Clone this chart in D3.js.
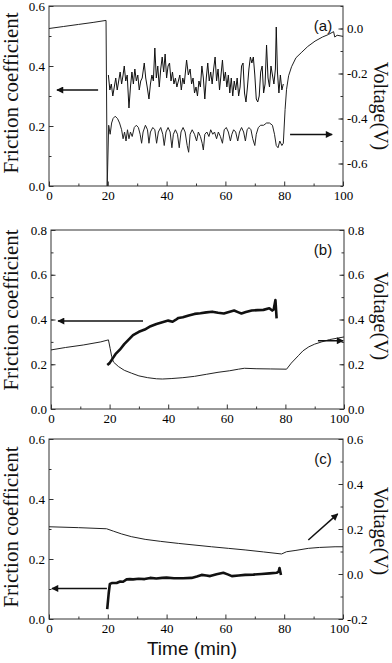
<!DOCTYPE html>
<html>
<head>
<meta charset="utf-8">
<script src="https://cdn.jsdelivr.net/npm/d3@7/dist/d3.min.js"></script>
<style>
  body { margin: 0; background: #fff; }
</style>
</head>
<body>
<div id="chart"></div>
<script>
// ---- data (time in min, friction coefficient, voltage in V) ----
var timeTicks = [0, 20, 40, 60, 80, 100];

// panel (a)
var muA = [[20.2,0.37],[20.7,0.32],[21.2,0.34],[21.7,0.30],[22.2,0.33],[22.7,0.36],[23.2,0.32],[23.7,0.35],[24.2,0.38],[24.7,0.34],
  [25.2,0.37],[25.6,0.40],[26.1,0.35],[26.6,0.37],[27.2,0.26],[27.7,0.33],[28.2,0.38],[28.7,0.34],[29.2,0.39],[29.7,0.35],
  [30.2,0.37],[30.7,0.32],[31.2,0.35],[31.7,0.36],[32.4,0.41],[32.9,0.36],[33.4,0.33],[34.0,0.29],[34.5,0.34],[35.0,0.37],
  [35.5,0.35],[36.0,0.46],[36.5,0.36],[37.0,0.40],[37.5,0.33],[38.0,0.39],[38.5,0.43],[39.0,0.38],[39.5,0.44],[40.0,0.36],
  [40.5,0.40],[41.0,0.41],[41.5,0.35],[42.0,0.38],[42.5,0.34],[43.0,0.36],[43.5,0.33],[44.0,0.35],[44.5,0.37],[45.0,0.32],
  [45.5,0.36],[46.0,0.34],[46.8,0.42],[47.4,0.37],[48.0,0.39],[48.5,0.34],[49.0,0.36],[49.5,0.31],[50.0,0.33],[50.5,0.30],
  [51.0,0.35],[51.5,0.33],[52.0,0.40],[52.5,0.36],[53.0,0.29],[53.5,0.36],[54.0,0.41],[54.5,0.35],[55.0,0.38],[55.5,0.34],
  [56.0,0.39],[56.5,0.43],[57.0,0.35],[57.5,0.39],[58.0,0.32],[58.5,0.37],[59.0,0.42],[59.5,0.35],[60.0,0.38],[60.5,0.33],
  [61.0,0.37],[61.5,0.31],[62.0,0.36],[62.5,0.30],[63.0,0.35],[63.5,0.32],[64.0,0.36],[64.5,0.30],[65.0,0.33],[65.5,0.40],
  [66.0,0.41],[66.5,0.31],[67.0,0.28],[67.5,0.33],[68.0,0.39],[68.5,0.43],[69.0,0.41],[69.5,0.43],[70.0,0.37],[70.5,0.29],
  [71.0,0.28],[71.5,0.30],[72.0,0.38],[72.5,0.40],[73.0,0.31],[73.5,0.34],[74.0,0.47],[74.5,0.36],[75.0,0.33],[75.5,0.40],
  [76.0,0.37],[76.5,0.34],[77.0,0.39],[77.3,0.53],[77.7,0.38],[78.2,0.31],[78.7,0.37],[79.2,0.32],[79.7,0.34]];
var voltA = [[0,0.0],[5,0.009],[10,0.018],[15,0.027],[19.4,0.036],[19.8,-0.70],[20.3,-0.43],[20.8,-0.47],[21.3,-0.42],[21.8,-0.40],
  [22.5,-0.39],[23.3,-0.40],[24.0,-0.42],[24.7,-0.45],[25.2,-0.49],[25.7,-0.46],[26.2,-0.50],[26.7,-0.45],[27.2,-0.49],[27.7,-0.46],
  [28.3,-0.48],[29.0,-0.44],[29.7,-0.43],[30.4,-0.44],[31.0,-0.47],[31.5,-0.51],[32.0,-0.46],[32.8,-0.43],[33.5,-0.45],[34.0,-0.51],
  [34.5,-0.46],[35.3,-0.44],[36.0,-0.45],[36.6,-0.51],[37.2,-0.46],[38.0,-0.44],[38.7,-0.47],[39.2,-0.52],[39.8,-0.46],[40.5,-0.44],
  [41.2,-0.46],[41.8,-0.53],[42.3,-0.47],[43.0,-0.45],[43.7,-0.47],[44.3,-0.53],[44.9,-0.46],[45.6,-0.44],[46.3,-0.46],[47.0,-0.52],
  [47.5,-0.55],[48.0,-0.47],[48.7,-0.45],[49.5,-0.47],[50.2,-0.50],[50.8,-0.46],[51.5,-0.48],[52.1,-0.51],[52.5,-0.54],[53.0,-0.47],
  [53.7,-0.46],[54.4,-0.48],[55.0,-0.45],[55.7,-0.47],[56.3,-0.46],[57.0,-0.49],[57.6,-0.46],[58.3,-0.48],[59.0,-0.51],[59.6,-0.45],
  [60.3,-0.44],[61.0,-0.46],[61.7,-0.50],[62.2,-0.47],[62.8,-0.45],[63.5,-0.46],[64.2,-0.50],[64.8,-0.46],[65.5,-0.44],[66.2,-0.46],
  [66.8,-0.50],[67.4,-0.45],[68.0,-0.44],[68.7,-0.45],[69.3,-0.49],[70.0,-0.52],[70.5,-0.47],[71.2,-0.44],[72.0,-0.43],[73.0,-0.43],
  [74.0,-0.42],[75.0,-0.42],[76.0,-0.43],[76.7,-0.47],[77.3,-0.52],[77.9,-0.53],[78.5,-0.50],[79.2,-0.52],[79.7,-0.51],[80.3,-0.36],
  [80.8,-0.27],[81.5,-0.21],[82.5,-0.17],[84.0,-0.13],[86.0,-0.105],[88.0,-0.08],[90.5,-0.056],[93.0,-0.038],[95.0,-0.027],
  [96.8,-0.014],[97.2,-0.038],[98.0,-0.03],[100,-0.035]];

// panel (b)
var muB = [[19.2,0.197],[20.0,0.205],[21.0,0.225],[22.0,0.245],[23.5,0.265],[25.0,0.29],[26.5,0.31],[28.0,0.33],[30.0,0.345],
  [32.0,0.355],[34.0,0.37],[36.0,0.38],[38.0,0.388],[40.0,0.395],[41.5,0.39],[42.5,0.398],[43.5,0.407],[45.0,0.41],[47.0,0.418],
  [49.0,0.425],[51.0,0.428],[53.0,0.432],[55.0,0.435],[57.0,0.43],[59.0,0.427],[61.0,0.435],[62.5,0.44],[64.0,0.432],[65.0,0.427],
  [66.5,0.433],[68.5,0.44],[70.5,0.442],[72.5,0.443],[74.5,0.45],[75.5,0.44],[76.0,0.445],[76.6,0.487],[77.0,0.405]];
var voltB = [[0,0.264],[5,0.275],[11,0.286],[17,0.30],[19.6,0.309],[20.2,0.27],[20.7,0.235],[21.3,0.21],[23,0.19],[25,0.173],
  [27.5,0.16],[30,0.148],[33,0.14],[36,0.135],[38,0.134],[41,0.136],[45,0.14],[49,0.146],[53,0.155],[57,0.164],[61,0.171],
  [64,0.178],[66,0.182],[70,0.18],[75,0.179],[80.4,0.178],[82,0.205],[84.4,0.238],[86,0.26],[88,0.278],[90,0.29],[92.4,0.30],
  [95,0.31],[97.5,0.316],[100,0.322]];

// panel (c)
var muC = [[19.8,0.033],[20.3,0.085],[20.7,0.117],[21.5,0.12],[23,0.12],[24.2,0.125],[25.2,0.124],[26.4,0.132],[27.5,0.133],
  [28.6,0.132],[30.5,0.134],[32.5,0.133],[34.4,0.137],[36.5,0.135],[38.5,0.137],[40,0.138],[42.5,0.136],[45.6,0.136],[48.5,0.137],
  [50.3,0.142],[51.9,0.147],[53.5,0.145],[54.8,0.143],[57,0.149],[59.3,0.154],[61,0.148],[62.2,0.143],[64.5,0.145],[66.7,0.147],
  [69.5,0.148],[72.3,0.15],[75,0.152],[77.4,0.154],[78.1,0.158],[78.4,0.17],[78.9,0.147]];
var voltC = [[0,0.210],[10,0.206],[19.6,0.201],[22,0.19],[24.7,0.178],[28,0.166],[32.7,0.154],[38,0.145],[44,0.136],[50,0.128],
  [55.3,0.121],[61,0.114],[66.7,0.107],[73,0.098],[79.1,0.089],[80.8,0.099],[84,0.105],[88.2,0.114],[92,0.118],[97.3,0.121],[100,0.121]];

// arrows in data units: [t0, v0, t1, v1, axis] (head at t1,v1)
var arrowsA = [[16.7, 0.32, 2.7, 0.32, "L"], [82, -0.471, 96.3, -0.471, "R"]];
var arrowsB = [[31.4, 0.393, 2.4, 0.393, "L"], [91.1, 0.305, 99.7, 0.305, "R"]];
var arrowsC = [[19.7, 0.102, 1.0, 0.102, "L"], [88.2, 0.151, 98.2, 0.267, "R"]];

// ---- layout ----
var width = 392, height = 663;
var serif = "'Liberation Serif', 'Times New Roman', serif";
var sans = "'Liberation Sans', Arial, sans-serif";

var panels = [
  {tag: "(a)", left: 49, right: 343, top: 6, bottom: 186, muDom: [0, 0.6], vDom: [-0.7, 0.1],
   muTicks: [0, 0.2, 0.4, 0.6], vTicks: [-0.6, -0.4, -0.2, 0.0],
   mu: muA, volt: voltA, muWidth: 1, arrows: arrowsA, fcY: 93, vY: 106, lastShift: 0},
  {tag: "(b)", left: 51, right: 344, top: 230, bottom: 409, muDom: [0, 0.8], vDom: [0, 0.8],
   muTicks: [0, 0.2, 0.4, 0.6, 0.8], vTicks: [0, 0.2, 0.4, 0.6, 0.8],
   mu: muB, volt: voltB, muWidth: 2.6, arrows: arrowsB, fcY: 310, vY: 316, lastShift: -5},
  {tag: "(c)", left: 49, right: 343, top: 439, bottom: 619, muDom: [0, 0.6], vDom: [-0.2, 0.6],
   muTicks: [0, 0.2, 0.4, 0.6], vTicks: [-0.2, 0, 0.2, 0.4, 0.6],
   mu: muC, volt: voltC, muWidth: 2.6, arrows: arrowsC, fcY: 527, vY: 531, lastShift: -4}
];

var svg = d3.select("#chart").append("svg")
  .attr("width", width)
  .attr("height", height);

var defs = svg.append("defs");
defs.append("marker")
  .attr("id", "head")
  .attr("markerUnits", "userSpaceOnUse")
  .attr("viewBox", "0 0 10 10")
  .attr("refX", 9).attr("refY", 5)
  .attr("markerWidth", 9).attr("markerHeight", 7)
  .attr("orient", "auto")
  .append("path")
  .attr("d", "M0,0 L10,5 L0,10 Z")
  .attr("fill", "#111");

function fmt1(d) { return d.toFixed(1); }

function minorTicks(dom) {
  var out = [];
  for (var v = Math.round(dom[0] * 10); v <= Math.round(dom[1] * 10); v++) out.push(v / 10);
  return out;
}

function styleAxis(g) {
  g.attr("font-family", serif).attr("font-size", 13);
  g.select(".domain").remove();
  g.selectAll("line").attr("stroke", "#333");
  g.selectAll("text").attr("fill", "#000");
}

panels.forEach(function(p) {
  var x = d3.scaleLinear().domain([0, 100]).range([p.left, p.right]);
  var yL = d3.scaleLinear().domain(p.muDom).range([p.bottom, p.top]);
  var yR = d3.scaleLinear().domain(p.vDom).range([p.bottom, p.top]);

  var g = svg.append("g");

  // bottom axis: minor then major ticks, pointing inward
  g.append("g").attr("transform", "translate(0," + p.bottom + ")")
    .call(d3.axisBottom(x).tickValues([10, 30, 50, 70, 90]).tickSize(-2.5).tickSizeOuter(0).tickFormat(""))
    .call(styleAxis);
  var xAx = g.append("g").attr("transform", "translate(0," + p.bottom + ")")
    .call(d3.axisBottom(x).tickValues(timeTicks).tickSize(-4.5).tickSizeOuter(0).tickPadding(5).tickFormat(d3.format("d")))
    .call(styleAxis);
  // the "100" label sits a little left where it meets the right axis label
  xAx.selectAll("text").filter(function(d) { return d === 100; }).attr("dx", p.lastShift);

  // left axis
  g.append("g").attr("transform", "translate(" + p.left + ",0)")
    .call(d3.axisLeft(yL).tickValues(minorTicks(p.muDom)).tickSize(-2.5).tickSizeOuter(0).tickFormat(""))
    .call(styleAxis);
  g.append("g").attr("transform", "translate(" + p.left + ",0)")
    .call(d3.axisLeft(yL).tickValues(p.muTicks).tickSize(-4.5).tickSizeOuter(0).tickPadding(4).tickFormat(fmt1))
    .call(styleAxis);

  // right axis
  g.append("g").attr("transform", "translate(" + p.right + ",0)")
    .call(d3.axisRight(yR).tickValues(minorTicks(p.vDom)).tickSize(-2.5).tickSizeOuter(0).tickFormat(""))
    .call(styleAxis);
  g.append("g").attr("transform", "translate(" + p.right + ",0)")
    .call(d3.axisRight(yR).tickValues(p.vTicks).tickSize(-4.5).tickSizeOuter(0).tickPadding(4).tickFormat(fmt1))
    .call(styleAxis);

  // frame
  g.append("rect")
    .attr("x", p.left).attr("y", p.top)
    .attr("width", p.right - p.left).attr("height", p.bottom - p.top)
    .attr("fill", "none").attr("stroke", "#333").attr("stroke-width", 1);

  // curves
  var lineMu = d3.line().x(function(d) { return x(d[0]); }).y(function(d) { return yL(d[1]); });
  var lineV = d3.line().x(function(d) { return x(d[0]); }).y(function(d) { return yR(d[1]); });

  g.append("path").datum(p.volt)
    .attr("d", lineV)
    .attr("fill", "none").attr("stroke", "#222").attr("stroke-width", 1);
  g.append("path").datum(p.mu)
    .attr("d", lineMu)
    .attr("fill", "none").attr("stroke", "#111")
    .attr("stroke-width", p.muWidth).attr("stroke-linejoin", "round");

  // arrows
  g.selectAll(".arrow").data(p.arrows).enter().append("line")
    .attr("x1", function(d) { return x(d[0]); })
    .attr("y1", function(d) { return (d[4] === "L" ? yL : yR)(d[1]); })
    .attr("x2", function(d) { return x(d[2]); })
    .attr("y2", function(d) { return (d[4] === "L" ? yL : yR)(d[3]); })
    .attr("stroke", "#111").attr("stroke-width", 1.5)
    .attr("marker-end", "url(#head)");

  // panel tag
  g.append("text")
    .attr("x", 323).attr("y", p.top + 25)
    .attr("text-anchor", "middle")
    .attr("font-family", sans).attr("font-size", 15).attr("fill", "#111")
    .text(p.tag);

  // axis titles
  g.append("text")
    .attr("transform", "translate(18," + p.fcY + ") rotate(-90)")
    .attr("text-anchor", "middle")
    .attr("font-family", serif).attr("font-size", 21).attr("fill", "#111")
    .text("Friction coefficient");
  g.append("text")
    .attr("transform", "translate(374," + p.vY + ") rotate(90)")
    .attr("text-anchor", "middle")
    .attr("font-family", serif).attr("font-size", 20).attr("fill", "#111")
    .text("Voltage(V)");
});

svg.append("text")
  .attr("x", 192).attr("y", 655)
  .attr("text-anchor", "middle")
  .attr("font-family", sans).attr("font-size", 19).attr("fill", "#111")
  .text("Time (min)");
</script>
</body>
</html>
